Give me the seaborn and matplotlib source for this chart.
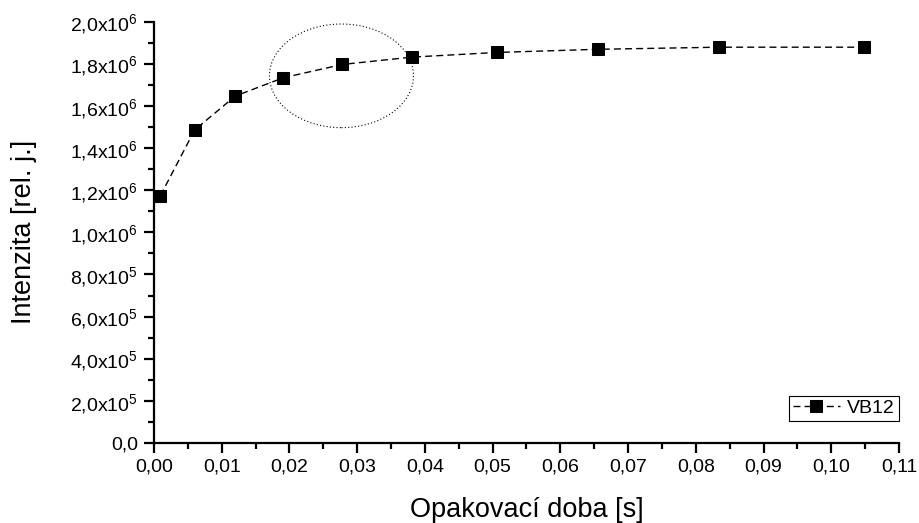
import matplotlib
matplotlib.use("Agg")
import matplotlib.pyplot as plt
from matplotlib.patches import Ellipse
from matplotlib.ticker import MultipleLocator, FuncFormatter
import seaborn as sns

# values
rep_time = [0.00094, 0.0060, 0.0120, 0.0191, 0.0278, 0.0381, 0.0506, 0.0655, 0.0834, 0.1049]
intensity = [1.174e6, 1.486e6, 1.647e6, 1.734e6, 1.797e6, 1.832e6, 1.854e6, 1.869e6, 1.879e6, 1.879e6]
series_name = "VB12"

sns.set_style("ticks")
plt.rcParams["font.family"] = ["Liberation Sans", "DejaVu Sans"]
plt.rcParams["text.color"] = "black"
plt.rcParams["axes.labelcolor"] = "black"
plt.rcParams["mathtext.fontset"] = "custom"
plt.rcParams["mathtext.rm"] = "Liberation Sans"
plt.rcParams["mathtext.it"] = "Liberation Sans"
plt.rcParams["mathtext.bf"] = "Liberation Sans"

fig = plt.figure(figsize=(9.19, 5.23), dpi=100)
ax = fig.add_axes([0.1676, 0.153, 0.9782 - 0.1676, 0.9585 - 0.153])

sns.lineplot(x=rep_time, y=intensity, ax=ax, color="black", marker="s",
             markersize=9, markeredgecolor="black", linestyle=(0, (5, 3)),
             linewidth=1.0, label=series_name)

# dotted ellipse highlighting the knee region
ax.add_patch(Ellipse((0.02768, 1.743e6), 0.02127, 0.492e6, fill=False,
                     linestyle=(0, (1, 2)), linewidth=0.8, edgecolor="black"))

ax.set_xlim(0, 0.11)
ax.set_ylim(0, 2.0e6)
ax.xaxis.set_major_locator(MultipleLocator(0.01))
ax.xaxis.set_minor_locator(MultipleLocator(0.005))
ax.yaxis.set_major_locator(MultipleLocator(2e5))
ax.yaxis.set_minor_locator(MultipleLocator(1e5))


def fmt_x(v, pos):
    return f"{v:.2f}".replace(".", ",")


def fmt_y(v, pos):
    if abs(v) < 1:
        return "0,0"
    exp = 0
    m = v
    while abs(m) >= 10:
        m /= 10
        exp += 1
    return f"{m:.1f}".replace(".", ",") + "x10$^{" + str(exp) + "}$"


ax.xaxis.set_major_formatter(FuncFormatter(fmt_x))
ax.yaxis.set_major_formatter(FuncFormatter(fmt_y))

for s in ["top", "right"]:
    ax.spines[s].set_visible(False)
for s in ["left", "bottom"]:
    ax.spines[s].set_linewidth(1.6)
    ax.spines[s].set_color("black")

ax.tick_params(which="major", direction="out", length=7.5, width=1.6, labelsize=14,
               colors="black", pad=4)
ax.tick_params(which="minor", direction="out", length=4, width=1.6, colors="black")

ax.set_xlabel("Opakovací doba [s]", fontsize=19.5, labelpad=15, color="black")
ax.set_ylabel("Intenzita [rel. j.]", fontsize=19.5, labelpad=24, color="black")

leg = ax.legend(loc="lower right", bbox_to_anchor=(1.0, 0.052), frameon=True,
                fancybox=False, edgecolor="black", framealpha=1, fontsize=14,
                handlelength=2.4, borderpad=0.2, handletextpad=0.4,
                borderaxespad=0.0)
leg.get_frame().set_linewidth(0.8)
for t in leg.get_texts():
    t.set_color("black")

fig.savefig("out.png", dpi=100)
